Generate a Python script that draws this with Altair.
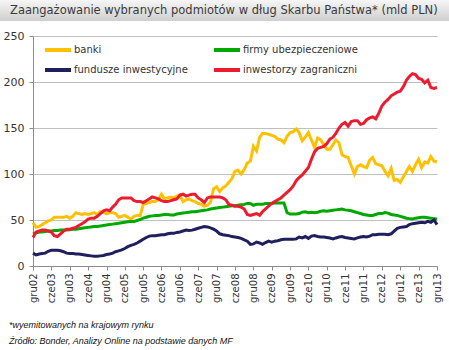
import altair as alt
import pandas as pd

title_text = "Zaangażowanie wybranych podmiotów w dług Skarbu Państwa* (mld PLN)"
footnotes = ["*wyemitowanych na krajowym rynku",
             "Źródło: Bonder, Analizy Online na podstawie danych MF"]

# legend order (filled column by column): banki, fundusze | firmy, inwestorzy
series_names = ["banki", "fundusze inwestycyjne", "firmy ubezpieczeniowe", "inwestorzy zagraniczni"]
series_colors = ["#FFC000", "#1F1F5E", "#00A800", "#EC1C2E"]

start_month = "2002-12-01"

banki = [47, 42, 43, 45, 47, 49, 50, 53, 53, 53, 53, 54, 52, 54, 58, 57, 56, 57, 56, 57,
         58, 56, 59, 58, 57, 58, 58, 57, 53, 54, 55, 53, 51, 54, 55, 55, 67, 68, 69, 70,
         70, 72, 78, 73, 74, 75, 74, 76, 77, 70, 72, 73, 71, 70, 68, 67, 65, 66, 69, 84,
         86, 81, 85, 87, 91, 95, 103, 104, 100, 105, 112, 114, 130, 125, 140, 144, 144, 143, 142, 141,
         138, 137, 134, 141, 145, 146, 149, 145, 136, 140, 145, 137, 129, 139, 137, 132, 127, 127, 132, 137,
         134, 121, 119, 118, 109, 100, 108, 110, 108, 107, 115, 118, 111, 110, 109, 103, 98, 106, 93, 94,
         91, 97, 103, 108, 103, 110, 116, 107, 113, 112, 119, 114, 113]

firmy = [35, 36, 37, 37, 37.5, 38, 38, 38.5, 38.5, 39, 39, 39, 39.5, 40, 40, 40.5, 41, 41.5, 42, 42.5,
         43, 43, 43.5, 44, 44.5, 45, 45.5, 46, 46.5, 47, 47.5, 48, 48.5, 48.5, 49.5, 50.5, 52, 53, 54, 54.5,
         55, 55, 55.5, 56, 56, 55.5, 55.5, 56.5, 57, 57.5, 58, 58.5, 59, 59, 59.5, 60, 60.5, 61, 62, 62.5,
         63, 63.5, 64, 64.5, 65, 65.5, 65.5, 66, 66.5, 67, 68, 68, 66, 67, 67, 67, 68, 68, 68, 68.5,
         68.5, 68.5, 68.5, 58, 56.5, 56.5, 56.5, 57, 58.5, 59, 58, 58.5, 58, 58.5, 59.5, 60, 59.5, 60, 60.5, 61,
         61.5, 62, 61, 60.5, 60, 59, 58, 57, 56, 55.5, 55, 55, 56, 57, 57, 58, 57.5, 56, 55.5, 55,
         54, 53, 52, 51.5, 51, 52, 52.5, 53, 53, 52.5, 52, 51.5, 51]

fundusze = [14, 12, 13, 13.5, 14, 16, 17, 17, 17, 16.5, 15.5, 14, 13.5, 13.5, 13, 13, 12.5, 12, 11.5, 11,
            10.5, 10.5, 11, 11.5, 12.5, 13, 14, 15.5, 16.5, 17.5, 19, 21, 22.5, 23.5, 25, 27, 29, 31, 32.5, 33,
            33, 33.5, 34, 34, 35, 35.5, 35.5, 36.5, 37, 38, 39, 38.5, 39, 40, 41, 42, 43, 42.5, 41.5, 40,
            38, 35, 34, 33.5, 33, 32, 31.5, 31, 30, 28.5, 27, 23.5, 24, 26, 25, 23.5, 25.5, 27, 26, 27,
            27.5, 28.5, 29, 29, 29, 29, 29.5, 31.5, 30.5, 32, 30, 32.5, 33, 32, 31.5, 31.5, 31, 30.5, 29.5, 30.5,
            31.5, 32, 31, 30.5, 30, 29.5, 30.5, 31.5, 32, 31.5, 32.5, 34, 34, 34.5, 34.5, 34.5, 34, 35, 38, 41,
            42, 42.5, 43, 45, 46, 46.5, 47, 47.5, 47, 48.5, 47.5, 50, 45]

inwestorzy = [31, 37, 38, 39, 39, 38, 37, 33, 32, 35, 38, 40, 40, 41, 42, 44, 46, 48, 51, 52,
              52, 54, 57, 60, 61, 60, 64, 67, 72, 74, 74, 74, 74, 71, 70, 70, 69, 71, 73, 75,
              74, 73, 71, 70, 70, 71, 72, 73, 77, 78, 76, 77, 78, 78, 74, 72, 69, 74, 75, 75,
              75, 75, 74, 72, 67, 66, 65, 65, 64, 62, 56, 55, 56, 57, 55, 59, 62, 65, 68, 70,
              72, 74, 77, 80, 83, 87, 93, 96, 99, 103, 107, 116, 124, 128, 129, 130, 133, 138, 140, 144,
              150, 154, 156, 152, 157, 158, 158, 154, 155, 159, 161, 162, 160, 166, 174, 178, 181, 185, 187, 189,
              190, 195, 202, 206, 209, 208, 204, 203, 199, 202, 194, 193, 194]

series_values = {"banki": banki, "firmy ubezpieczeniowe": firmy,
                 "fundusze inwestycyjne": fundusze, "inwestorzy zagraniczni": inwestorzy}

y_ticks = [0, 50, 100, 150, 200, 250]

months = pd.date_range(start_month, periods=len(banki), freq="MS")
rows = []
for name in ["banki", "firmy ubezpieczeniowe", "fundusze inwestycyjne", "inwestorzy zagraniczni"]:
    for d, v in zip(months, series_values[name]):
        rows.append({"data": d, "seria": name, "wartosc": v})
df = pd.DataFrame(rows)

tick_values = []
for yr in range(2002, 2014):
    if yr > 2002:
        tick_values.append(alt.DateTime(year=yr, month=6, date=1))
    tick_values.append(alt.DateTime(year=yr, month=12, date=1))

W, H = 404, 230
FONT = "DejaVu Sans"

lines = alt.Chart(df).mark_line(strokeWidth=3, interpolate="linear").encode(
    x=alt.X("data:T",
            scale=alt.Scale(domain=[alt.DateTime(year=2002, month=12, date=1),
                                    alt.DateTime(year=2013, month=12, date=1)], nice=False),
            axis=alt.Axis(values=tick_values,
                          labelExpr="(month(datum.value) == 11 ? 'gru' : 'cze') + timeFormat(datum.value, '%y')",
                          labelAngle=-90, title=None, grid=False, tickSize=4, labelPadding=3,
                          labelFontSize=10, labelFont=FONT, labelColor="#333333",
                          domainColor="#8c8c8c", tickColor="#8c8c8c", labelOverlap=False)),
    y=alt.Y("wartosc:Q", scale=alt.Scale(domain=[0, 250], nice=False),
            axis=alt.Axis(values=y_ticks, title=None, grid=True, gridColor="#c0c0c0",
                          tickSize=4, labelPadding=5, labelFontSize=11, labelFont=FONT,
                          labelColor="#333333", domainColor="#8c8c8c", tickColor="#8c8c8c")),
    color=alt.Color("seria:N",
                    scale=alt.Scale(domain=series_names, range=series_colors),
                    legend=alt.Legend(orient="none", legendX=10, legendY=9, columns=2,
                                      title=None, symbolType="M-13,0H13", symbolStrokeWidth=4,
                                      symbolSize=4, symbolOffset=10, labelOffset=11,
                                      labelFontSize=10, labelFont=FONT,
                                      labelColor="#333333", columnPadding=18, rowPadding=4,
                                      padding=0)),
)

band = alt.Chart(pd.DataFrame({"t": [title_text]})).mark_rect(
    color=alt.LinearGradient(gradient="linear",
                             stops=[alt.GradientStop(color="#f6f6f6", offset=0),
                                    alt.GradientStop(color="#cfcfcf", offset=1)],
                             x1=0, x2=0, y1=0, y2=1)
).encode(x=alt.value(-33), x2=alt.value(416), y=alt.value(-36), y2=alt.value(-15))

title = alt.Chart(pd.DataFrame({"t": [title_text]})).mark_text(
    align="left", baseline="middle", fontSize=11.5, font=FONT, color="#3a3a3a"
).encode(x=alt.value(-23), y=alt.value(-25), text="t:N")

notes_df = pd.DataFrame({"t": footnotes, "i": [0, 1]})
notes = alt.Chart(notes_df).mark_text(
    align="left", baseline="middle", fontSize=9, font="Liberation Sans",
    fontStyle="italic", color="#111111"
).encode(x=alt.value(-24),
         y=alt.Y("i:Q", scale=alt.Scale(domain=[0, 1], range=[289, 305]), axis=None),
         text="t:N")

chart = alt.layer(band, title, lines, notes).resolve_scale(y="independent").properties(
    width=W, height=H,
    autosize=alt.AutoSizeParams(type="none"),
    padding={"left": 33, "top": 36, "right": 12, "bottom": 84},
).configure_view(stroke=None)

chart.save("out.html", embed_options={"renderer": "svg", "actions": False})
